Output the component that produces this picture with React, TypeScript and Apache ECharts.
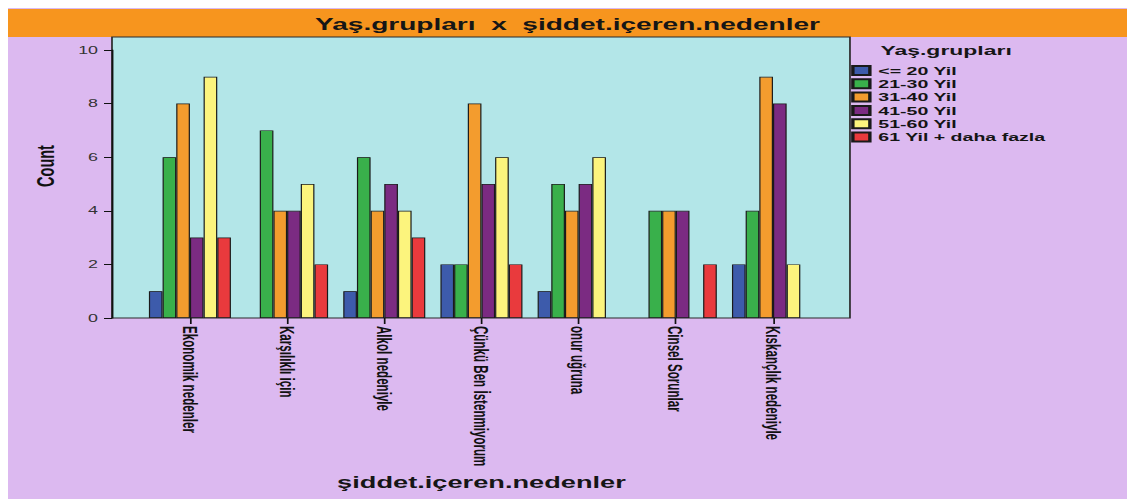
import React, { useEffect, useRef } from "react";
import * as echarts from "echarts";

// ---- data ----
const categories = [
  "Ekonomik nedenler",
  "Karşılıklı için",
  "Alkol nedeniyle",
  "Çünkü Ben İstenmiyorum",
  "onur uğruna",
  "Cinsel Sorunlar",
  "Kıskançlık nedeniyle",
];
const ageGroups = [
  "<= 20 Yil",
  "21-30 Yil",
  "31-40 Yil",
  "41-50 Yil",
  "51-60 Yil",
  "61 Yil + daha fazla",
];
const age20orLess = [1, 0, 1, 2, 1, 0, 2];
const age21to30 = [6, 7, 6, 2, 5, 4, 4];
const age31to40 = [8, 4, 4, 8, 4, 4, 9];
const age41to50 = [3, 4, 5, 5, 5, 4, 8];
const age51to60 = [9, 5, 4, 6, 6, 0, 2];
const age61plus = [3, 2, 3, 2, 0, 2, 0];
const yTicks = [0, 2, 4, 6, 8, 10];

const seriesValues = [age20orLess, age21to30, age31to40, age41to50, age51to60, age61plus];
const colors = ["#3d5bab", "#39b04b", "#f39c2e", "#7b2b82", "#fcf47d", "#e93a3d"];

// the reference picture is stretched horizontally; render narrow and stretch
const OUT_W = 1119;
const IN_W = 658;
const H = 491;
const S = OUT_W / IN_W;
const FONT = "'Liberation Sans', Arial, Helvetica, sans-serif";

export default function App() {
  const ref = useRef<HTMLDivElement>(null);
  useEffect(() => {
    const chart = echarts.init(ref.current!, null, { renderer: "svg" });
    const plotLeft = 61.15;
    const plotRight = 495.1;
    chart.setOption({
      animation: false,
      backgroundColor: "#dcb9f0",
      title: [
        {
          text: "Yaş.grupları  x  şiddet.içeren.nedenler",
          left: "center",
          top: 7.5,
          padding: 0,
          textStyle: { fontFamily: FONT, fontSize: 16.5, fontWeight: "bold", color: "#161616" },
        },
        {
          text: "Yaş.grupları",
          left: 513,
          top: 35,
          padding: 0,
          textStyle: { fontFamily: FONT, fontSize: 13.5, fontWeight: "bold", color: "#161616" },
        },
      ],
      legend: {
        orient: "vertical",
        left: 495.8,
        top: 56,
        padding: 0,
        itemWidth: 10,
        itemHeight: 9,
        itemGap: 0.3,
        icon: "rect",
        selectedMode: false,
        data: ageGroups,
        textStyle: {
          fontFamily: FONT,
          fontSize: 11.5,
          fontWeight: "bold",
          color: "#141414",
          lineHeight: 13,
          padding: 0,
        },
      },
      graphic: [
        {
          type: "rect",
          z: -10,
          silent: true,
          shape: { x: 0, y: 1, width: IN_W, height: 28 },
          style: { fill: "#f7951e" },
        },
        {
          type: "rect",
          z: -10,
          silent: true,
          shape: { x: plotLeft, y: 29, width: plotRight - plotLeft, height: 281 },
          style: { fill: "#b3e6e8", stroke: "#2a2a2a", lineWidth: 1 },
        },
        {
          type: "text",
          x: 21.8,
          y: 158,
          rotation: Math.PI / 2,
          silent: true,
          style: {
            text: "Count",
            font: `bold 14.5px ${FONT}`,
            fill: "#111",
            align: "center",
            verticalAlign: "middle",
            textAlign: "center",
            textVerticalAlign: "middle",
          },
        },
      ],
      grid: { left: 78.4, width: 400, top: 42, height: 268 },
      xAxis: {
        type: "category",
        data: categories,
        name: "şiddet.içeren.nedenler",
        nameLocation: "middle",
        nameGap: 157,
        nameTextStyle: { fontFamily: FONT, fontSize: 16, fontWeight: "bold", color: "#161616" },
        axisLine: { show: false },
        axisTick: { show: true, alignWithLabel: true, length: 6, lineStyle: { color: "#111", width: 1 } },
        axisLabel: {
          interval: 0,
          rotate: -90,
          margin: 8,
          fontFamily: FONT,
          fontSize: 11.6,
          fontWeight: "bold",
          color: "#111",
        },
        splitLine: { show: false },
      },
      yAxis: {
        type: "value",
        min: yTicks[0],
        max: yTicks[yTicks.length - 1],
        interval: yTicks[1] - yTicks[0],
        offset: 78.4 - plotLeft,
        axisLine: { show: true, lineStyle: { color: "#111", width: 1 } },
        axisTick: { show: true, length: 4.7, lineStyle: { color: "#111", width: 1 } },
        axisLabel: { margin: 8.2, fontFamily: FONT, fontSize: 10.5, color: "#333" },
        splitLine: { show: false },
      },
      series: ageGroups.map((name, i) => ({
        name,
        type: "bar",
        barGap: "0%",
        barCategoryGap: "15.6%",
        data: seriesValues[i].map((v) => (v === 0 ? null : v)),
        itemStyle: { color: colors[i], borderColor: "#1a1a1a", borderWidth: 0.7 },
      })),
    });
    return () => chart.dispose();
  }, []);
  return (
    <div style={{ position: "absolute", left: 8, top: 8, width: OUT_W, height: H, overflow: "hidden" }}>
      <div
        ref={ref}
        style={{ width: IN_W, height: H, transform: `scaleX(${S})`, transformOrigin: "0 0" }}
      />
    </div>
  );
}
